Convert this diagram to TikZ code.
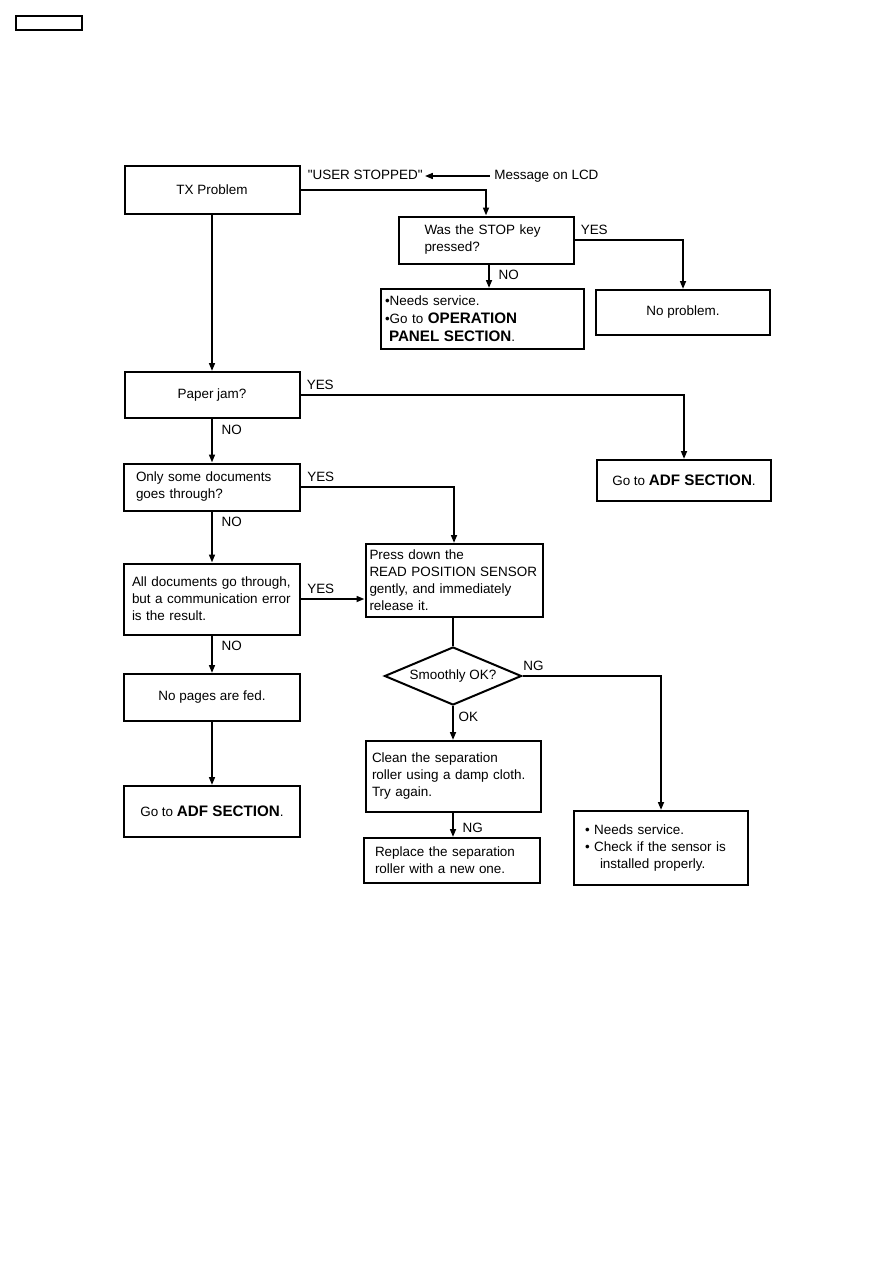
\documentclass[tikz,border=0pt]{standalone}
\usepackage{fontspec}
\setmainfont{Liberation Sans}
\usetikzlibrary{arrows.meta, shapes.geometric}
\newcommand\boldsec[1]{{\fontsize{11.4}{13.5}\selectfont\bfseries #1}}

\begin{document}
\begin{tikzpicture}[
    x=0.75pt, y=-0.75pt,
    every node/.style={font=\fontsize{10.1}{12.75}\selectfont},
    arr/.style={-{Triangle[length=6pt, width=4.4pt]}, line width=1.4pt},
    con/.style={line width=1.4pt},
    box/.style={rectangle, draw, line width=1.5pt, align=center, inner sep=0pt},
    lbox/.style={box, align=left},
    dec/.style={diamond, draw, line width=1.5pt, inner sep=0pt, aspect=2.36,
                minimum width=102.75pt, minimum height=43.5pt},
    yes/.style={above right, inner xsep=4pt, inner ysep=3pt},
    no/.style={below right, inner xsep=6.5pt, inner ysep=3.5pt},
]
\useasboundingbox (0,0) rectangle (893,1263);

\draw[line width=1.2pt] (16,16) rectangle (82,30);

% ================================================================ top: stop key
\node[box, minimum width=131.25pt, minimum height=36pt] (tx) at (212,190) {TX Problem};
\node[anchor=west, inner xsep=1.5pt] (user) at (305.5,175) {\textquotedbl USER STOPPED\textquotedbl};
\node[anchor=west, inner xsep=3.5pt] (lcd) at (489.5,176) {Message on LCD};
\draw[arr] (lcd.west) -- (lcd.west -| user.east);

\node[lbox, text width=92.25pt, minimum width=131.25pt, minimum height=35.25pt]
    (stop) at (486,240) {Was the STOP key\\pressed?};
\node[lbox, text width=146.25pt, minimum width=152.25pt, minimum height=45pt,
      font=\fontsize{10.1}{13.5}\selectfont]
    (svc) at (482.5,319) {\textbullet Needs service.\\
    \textbullet Go to \boldsec{OPERATION}\\
    \hspace{3pt}\boldsec{PANEL SECTION}.};
\node[box, minimum width=130.5pt, minimum height=33.75pt] (fine) at (683,312.5) {No problem.};

\draw[arr] (tx.east) -| (stop.north);
\draw[arr] (stop.east) node[yes] {YES} -| (fine.north);
\draw[arr] (stop.south -| 489,0) node[no] {NO} -- (svc.north -| 489,0);

% ================================================================ left column
\node[box, minimum width=131.25pt, minimum height=34.5pt] (jam) at (212,395) {Paper jam?};
\node[box, minimum width=130.5pt, minimum height=30.75pt] (adfr) at (684,480.5)
    {Go to \boldsec{ADF SECTION}.};
\node[lbox, text width=114pt, minimum width=132pt, minimum height=35.25pt]
    (some) at (212,487) {Only some documents\\goes through?};
\node[lbox, text width=120pt, minimum width=132pt, minimum height=53.25pt]
    (all) at (212,599) {All documents go through,\\but a communication error\\is the result.};
\node[box, minimum width=132pt, minimum height=35.25pt] (nofeed) at (212,697.5) {No pages are fed.};
\node[box, minimum width=132pt, minimum height=38.25pt] (adfl) at (212,811.5)
    {Go to \boldsec{ADF SECTION}.};

\draw[arr] (tx.south) -- (jam.north);
\draw[arr] (jam.east) node[yes] {YES} -| (adfr.north);
\draw[arr] (jam.south) node[no] {NO} -- (some.north);
\draw[arr] (some.south) node[no] {NO} -- (all.north);
\draw[arr] (all.south) node[no] {NO} -- (nofeed.north);
\draw[arr] (nofeed.south) -- (adfl.north);

% ================================================================ right column: sensor
\node[lbox, text width=126.75pt, minimum width=132.75pt, minimum height=54.75pt]
    (press) at (454,580.5) {Press down the\\READ POSITION SENSOR\\gently, and immediately\\release it.};
\node[dec] (smooth) at (453,676) {Smoothly OK?};
\node[lbox, text width=122.25pt, minimum width=131.25pt, minimum height=53.25pt]
    (clean) at (453.5,776.5) {Clean the separation\\roller using a damp cloth.\\Try again.};
\node[lbox, text width=115.5pt, minimum width=132pt, minimum height=33.75pt]
    (swap) at (452,860.5) {Replace the separation\\roller with a new one.};
\node[lbox, text width=114pt, minimum width=130.5pt, minimum height=55.5pt]
    (check) at (661,848) {\textbullet\ Needs service.\\\textbullet\ Check if the sensor is\\
    \hspace{11.25pt}installed properly.};

\draw[arr] (some.east) node[yes] {YES} -| (press.north);
\draw[arr] (all.east) node[yes] {YES} -- (all.east -| press.west);
\draw[con] (smooth.north |- press.south) -- (smooth.north);
\draw[arr] (smooth.east) node[yes, inner xsep=0pt] {NG} -| (check.north);
\draw[arr] (smooth.south) node[no, inner xsep=3.5pt] {OK} -- (smooth.south |- clean.north);
\draw[arr] (clean.south -| smooth.south) node[no, yshift=-3pt] {NG} -- (smooth.south |- swap.north);

\end{tikzpicture}
\end{document}
